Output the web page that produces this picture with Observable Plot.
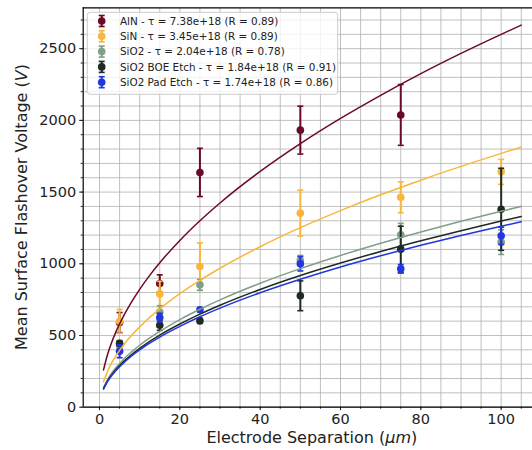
<!DOCTYPE html>
<html>
<head>
<meta charset="utf-8">
<script src="https://cdn.jsdelivr.net/npm/d3@7"></script>
<script src="https://cdn.jsdelivr.net/npm/@observablehq/plot@0.6"></script>
<style>
  html, body { margin: 0; padding: 0; background: #fff; overflow: hidden; }
  svg { display: block; }
</style>
</head>
<body>
<div id="chart"></div>
<script>
// ---- data ----
const separations = [5, 15, 25, 50, 75, 100];
const materials = ["AlN", "SiN", "SiO2", "SiO2 BOE Etch", "SiO2 Pad Etch"];
const taus = ["7.38e+18", "3.45e+18", "2.04e+18", "1.84e+18", "1.74e+18"];
const rValues = ["0.89", "0.89", "0.78", "0.91", "0.86"];
const colors = ["#6b0a26", "#f8b73a", "#7f9f86", "#1f2a22", "#2236e0"];

const alnMean = [590, 863, 1637, 1932, 2038, null];
const alnErr  = [70, 60, 168, 167, 212, null];
const sinMean = [599, 790, 981, 1353, 1464, 1641];
const sinErr  = [83, 88, 165, 160, 108, 87];
const sio2Mean = [432, 663, 853, 1023, 1202, 1151];
const sio2Err  = [20, 45, 38, 35, 80, 86];
const boeMean = [446, 571, 602, 777, 1102, 1380];
const boeErr  = [18, 35, 18, 104, 160, 286];
const padMean = [390, 625, 680, 1000, 965, 1195];
const padErr  = [45, 30, 15, 50, 30, 60];

// fitted curves
const fitX = [1, 2, 3, 4, 5, 6, 8, 10, 12.5, 15, 20, 25, 30, 40, 50, 60, 70, 80, 90, 100, 105];
const alnFit  = [260, 368, 450, 520, 581, 637, 735, 822, 919, 1007, 1163, 1300, 1424, 1644, 1838, 2014, 2175, 2326, 2467, 2600, 2664];
const sinFit  = [177, 250, 307, 354, 396, 434, 501, 560, 626, 686, 792, 885, 969, 1119, 1252, 1371, 1481, 1583, 1679, 1770, 1814];
const sio2Fit = [137, 193, 237, 273, 305, 335, 386, 432, 483, 529, 611, 683, 748, 864, 966, 1058, 1143, 1222, 1296, 1366, 1400];
const boeFit  = [130, 184, 225, 260, 290, 318, 367, 410, 459, 503, 580, 649, 711, 821, 918, 1005, 1086, 1161, 1231, 1298, 1330];
const padFit  = [126, 178, 219, 252, 282, 309, 357, 399, 446, 489, 564, 631, 691, 798, 892, 978, 1056, 1129, 1197, 1262, 1293];

const xMajor = [0, 20, 40, 60, 80, 100];
const yMajor = [0, 500, 1000, 1500, 2000, 2500];

// ---- build tables ----
const means = [alnMean, sinMean, sio2Mean, boeMean, padMean];
const errs = [alnErr, sinErr, sio2Err, boeErr, padErr];
const fits = [alnFit, sinFit, sio2Fit, boeFit, padFit];

const points = [];
materials.forEach((m, i) => {
  separations.forEach((x, j) => {
    if (means[i][j] != null) points.push({material: m, x, y: means[i][j], lo: means[i][j] - errs[i][j], hi: means[i][j] + errs[i][j]});
  });
});
const curves = [];
materials.forEach((m, i) => fitX.forEach((x, j) => curves.push({material: m, x, y: fits[i][j]})));

const xDomain = [-4.06, 107.8];
const yDomain = [0, 2785];
const xMinor = d3.range(0, 110, 5);
const yMinor = d3.range(0, 2785, 100);

const capSymbol = {
  draw(ctx, size) {
    const r = Math.sqrt(size / Math.PI);
    ctx.moveTo(-r, 0);
    ctx.lineTo(r, 0);
  }
};

const color = {domain: materials, range: colors};
const W = 532, H = 450;
const mL = 82.7, mT = 7.3, mB = 43.3, mR = 0;

const marks = [
  Plot.gridX(xMinor, {stroke: "#b0b0b0", strokeOpacity: 1, strokeWidth: 0.8}),
  Plot.gridY(yMinor, {stroke: "#b0b0b0", strokeOpacity: 1, strokeWidth: 0.8}),
];
materials.forEach((m) => {
  const pts = points.filter(d => d.material === m);
  marks.push(
    Plot.ruleX(pts, {x: "x", y1: "lo", y2: "hi", stroke: "material", strokeWidth: 2}),
    Plot.dot(pts, {x: "x", y: "hi", symbol: capSymbol, r: 3, stroke: "material", strokeWidth: 1.6, fill: "none"}),
    Plot.dot(pts, {x: "x", y: "lo", symbol: capSymbol, r: 3, stroke: "material", strokeWidth: 1.6, fill: "none"}),
    Plot.dot(pts, {x: "x", y: "y", r: 3.8, fill: "material", stroke: "none"}),
  );
});
materials.forEach((m) => {
  marks.push(Plot.line(curves.filter(d => d.material === m), {x: "x", y: "y", stroke: "material", strokeWidth: 1.5, curve: "monotone-x"}));
});
marks.push(
  Plot.axisX(xMinor, {tickSize: 2, tickFormat: () => "", label: null}),
  Plot.axisY(yMinor, {tickSize: 2, tickFormat: () => "", label: null}),
  Plot.axisX(xMajor, {tickSize: 3.5, tickPadding: 3.5, fontSize: 14.5, label: null, tickFormat: d => String(d)}),
  Plot.axisY(yMajor, {tickSize: 3.5, tickPadding: 3.5, fontSize: 14.5, label: null, tickFormat: d => String(d)}),
  Plot.ruleY([yDomain[0]], {stroke: "#000", strokeWidth: 1.2}),
  Plot.ruleY([yDomain[1]], {stroke: "#000", strokeWidth: 1.2}),
  Plot.ruleX([xDomain[0]], {stroke: "#000", strokeWidth: 1.2}),
);

const svg = Plot.plot({
  width: W, height: H,
  marginLeft: mL, marginTop: mT, marginBottom: mB, marginRight: mR,
  x: {domain: xDomain, axis: null},
  y: {domain: yDomain, axis: null},
  color: color,
  style: {fontFamily: "DejaVu Sans", fontSize: "14.5px", color: "#222", background: "#fff"},
  marks
});

const s = d3.select(svg);
// axis labels
const xl = s.append("text")
  .attr("x", (mL + 541) / 2).attr("y", 443)
  .attr("text-anchor", "middle")
  .attr("font-family", "DejaVu Sans").attr("font-size", 16).attr("fill", "#222");
xl.append("tspan").text("Electrode Separation (");
xl.append("tspan").attr("font-style", "italic").text("μm");
xl.append("tspan").text(")");

const yl = s.append("text")
  .attr("transform", `translate(27,${(mT + H - mB) / 2}) rotate(-90)`)
  .attr("text-anchor", "middle")
  .attr("font-family", "DejaVu Sans").attr("font-size", 16).attr("fill", "#222");
yl.append("tspan").text("Mean Surface Flashover Voltage (");
yl.append("tspan").attr("font-style", "italic").text("V");
yl.append("tspan").text(")");

// legend
const lg = s.append("g").attr("font-family", "DejaVu Sans").attr("font-size", 10.4).attr("text-anchor", "start");
lg.append("rect")
  .attr("x", 87.3).attr("y", 12.3).attr("width", 250.4).attr("height", 82)
  .attr("rx", 3).attr("ry", 3)
  .style("fill", "#ffffff").style("fill-opacity", 0.8)
  .style("stroke", "#cccccc").style("stroke-width", 1);
materials.forEach((m, i) => {
  const y = 21 + i * 15.3;
  const g = lg.append("g");
  g.append("line").attr("x1", 101.7).attr("x2", 101.7).attr("y1", y - 5.5).attr("y2", y + 5.5).attr("stroke", colors[i]).attr("stroke-width", 2);
  g.append("line").attr("x1", 98.7).attr("x2", 104.7).attr("y1", y - 5.5).attr("y2", y - 5.5).attr("stroke", colors[i]).attr("stroke-width", 1.6);
  g.append("line").attr("x1", 98.7).attr("x2", 104.7).attr("y1", y + 5.5).attr("y2", y + 5.5).attr("stroke", colors[i]).attr("stroke-width", 1.6);
  g.append("circle").attr("cx", 101.7).attr("cy", y).attr("r", 3.8).attr("fill", colors[i]);
  g.append("text").attr("x", 120).attr("y", y).attr("dy", "0.35em").attr("fill", "#222").attr("text-anchor", "start")
    .text(`${m} - τ = ${taus[i]} (R = ${rValues[i]})`);
});

document.getElementById("chart").appendChild(svg);
</script>
</body>
</html>
